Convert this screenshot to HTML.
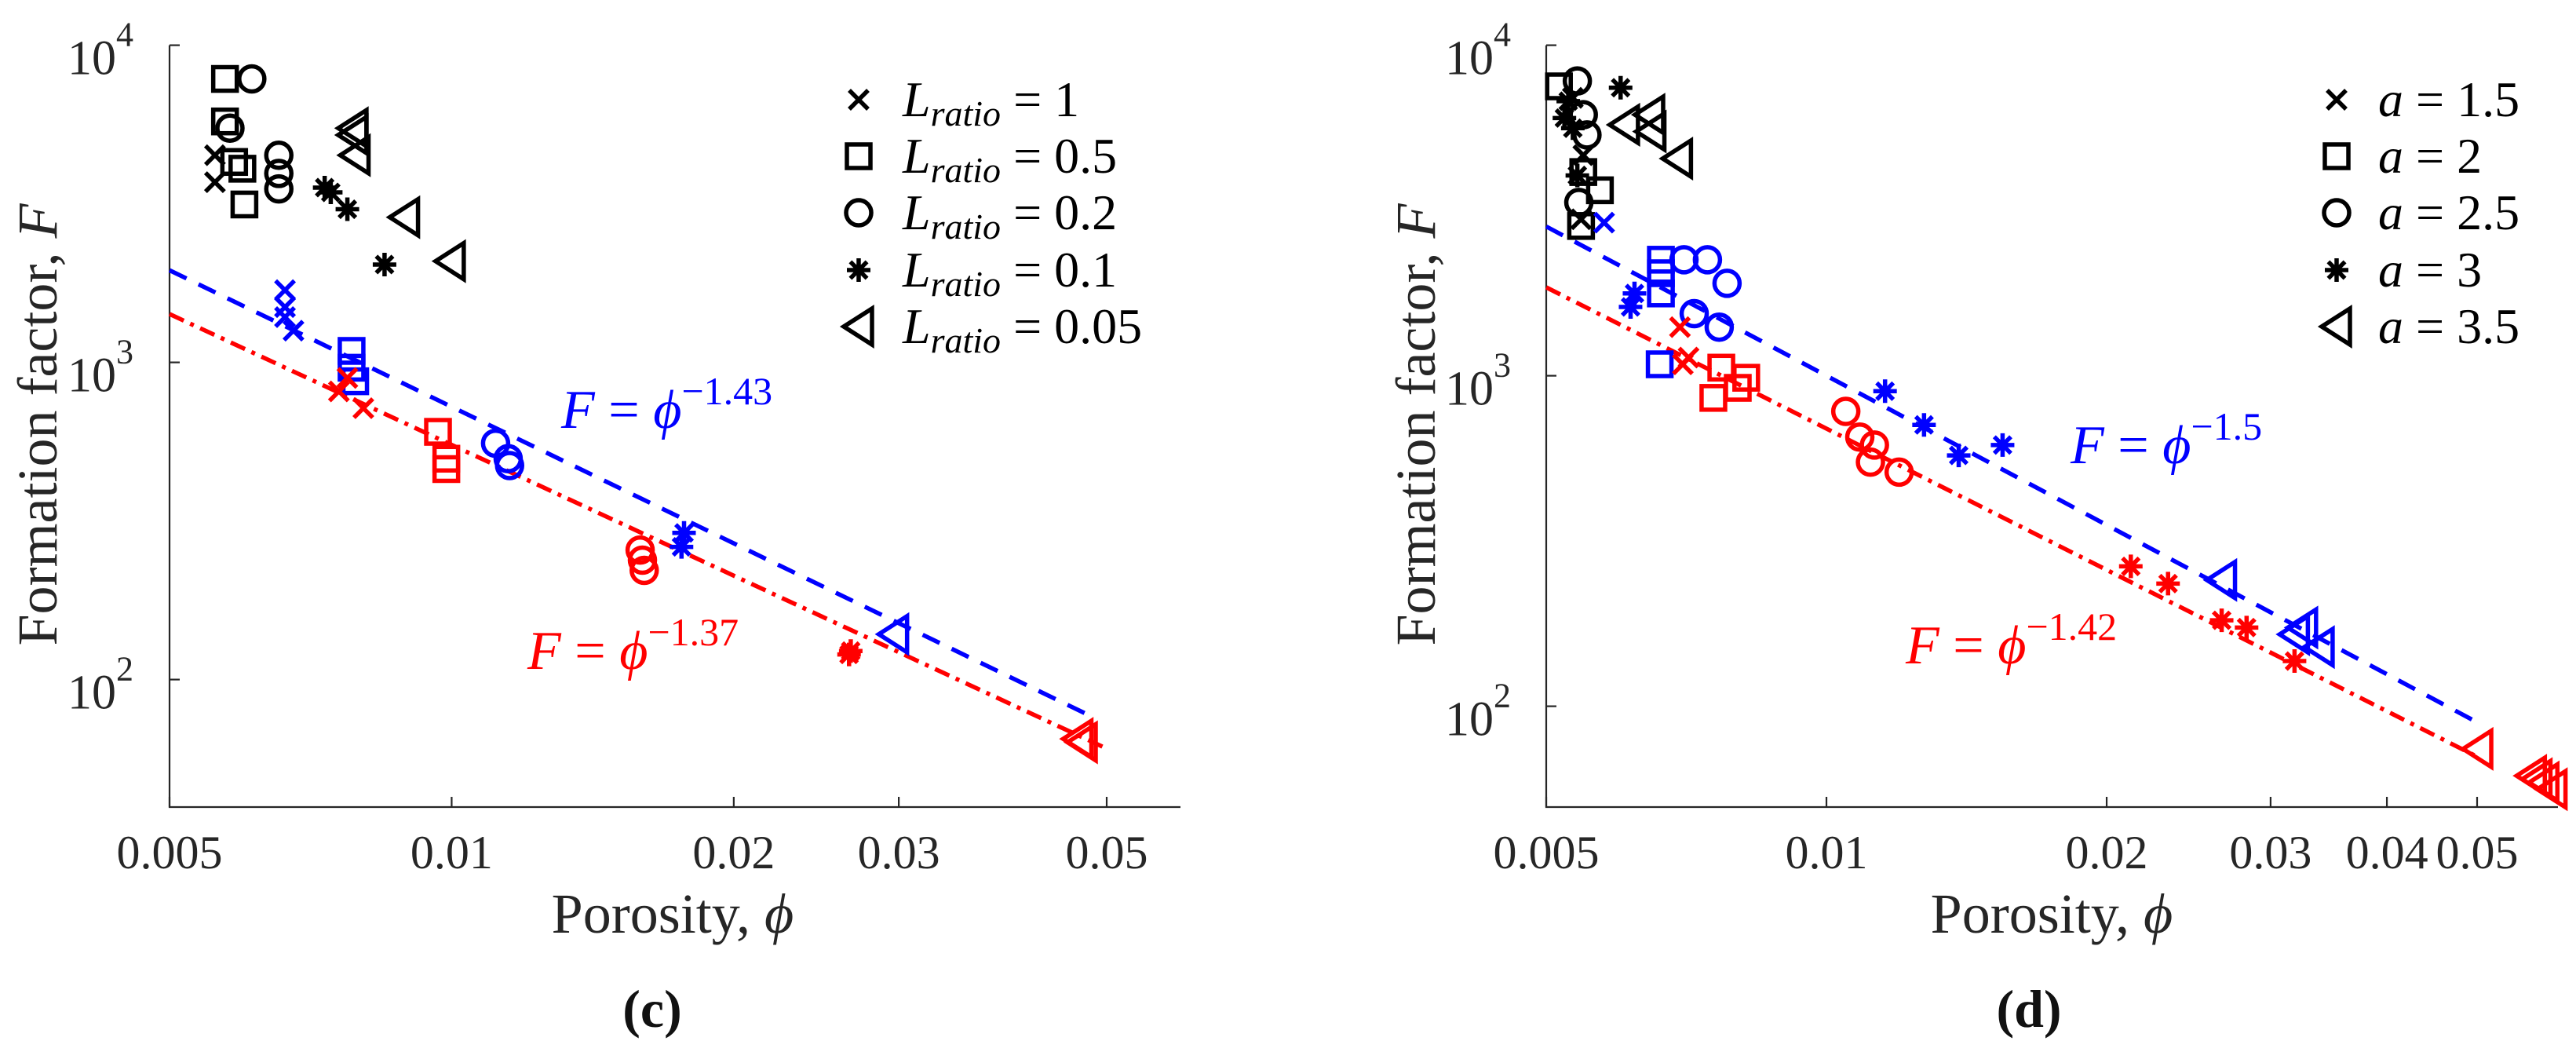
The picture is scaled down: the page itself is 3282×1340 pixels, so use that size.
<!DOCTYPE html>
<html><head><meta charset="utf-8"><style>
html,body{margin:0;padding:0;background:#fff;}
svg{display:block;}
svg text{font-family:"Liberation Serif","DejaVu Serif",serif !important;}
</style></head><body>
<svg id="fig" width="3282" height="1340" viewBox="0 0 3282 1340" xmlns="http://www.w3.org/2000/svg" font-family="'Liberation Serif', 'DejaVu Serif', serif"></svg>
<script>
// ---------- Panel (c) data ----------
const cBlackPhi = [0.00559,0.00559, 0.00573,0.00573,0.00598,0.00601,0.00586, 0.00612,0.0058,0.00654,0.00654,0.00654, 0.00732,0.00743,0.00774,0.00848, 0.00785,0.00785,0.00789,0.00891,0.00997];
const cBlackF   = [4500,3700, 7830,5750,4080,3147,4285, 7830,5475,4500,3942,3523, 3557,3436,3040,2035, 5475,5210,4500,2868,2085];
const cBlackMk  = ['x','x','s','s','s','s','s','o','o','o','o','o','*','*','*','*','<','<','<','<','<'];
const cBluePhi = [0.00664,0.00664,0.00664,0.00678, 0.00782,0.00782,0.00789, 0.01114,0.01149,0.01153, 0.0177,0.01759, 0.02963];
const cBlueF   = [1690,1494,1389,1259, 1087,962,872, 556,497,473, 290,262, 139];
const cBlueMk  = ['x','x','x','x','s','s','s','o','o','o','*','*','<'];
const cRedPhi = [0.00758,0.00805,0.00774, 0.00967,0.00987,0.00987, 0.01589,0.01598,0.01605, 0.02666,0.02655, 0.0471,0.0466];
const cRedF   = [810,717,893, 604,497,461, 256,238,221, 123,120, 63.4,65];
const cRedMk  = ['x','x','x','s','s','s','o','o','o','*','*','<','<'];
const cXTicks = [0.005,0.01,0.02,0.03,0.05];
const cXTickLabels = ['0.005','0.01','0.02','0.03','0.05'];
const cLegendVals = ['1','0.5','0.2','0.1','0.05'];
const cFitExp = [1.43,1.37];
const cFitRange = [[0.005,0.048],[0.005,0.05]];

// ---------- Panel (d) data ----------
const dBlackPhi = [0.00545,0.00548,0.00534, 0.00516,0.00545,0.00571,0.00548, 0.0054,0.00548,0.00553,0.00542, 0.00528,0.00523,0.0054,0.00601,0.00534, 0.00607,0.00646,0.00692,0.00648];
const dBlackF   = [2975,4648,6931, 7508,2839,3640,4133, 7795,6163,5354,3345, 6770,6020,4037,7436,5610, 5745,6163,4540,5482];
const dBlackMk  = ['x','x','x','s','s','s','s','o','o','o','o','*','*','*','*','*','<','<','<','<'];
const dBluePhi = [0.00577, 0.00664,0.00664,0.00664,0.00662, 0.00703,0.00745,0.00782,0.00721,0.00767, 0.00616,0.00622,0.01156,0.01273,0.01387,0.01546, 0.02658,0.03183,0.03384,0.03248];
const dBlueF   = [2906, 2244,2043,1774,1083, 2244,2244,1904,1541,1403, 1615,1774,898,710,574,617, 241,165,151,173];
const dBlueMk  = ['x','s','s','s','s','o','o','o','o','o','*','*','*','*','*','*','<','<','<','<'];
const dRedPhi = [0.00696,0.00701,0.00711, 0.00771,0.00756,0.00803,0.0082, 0.01049,0.01086,0.01126,0.01115,0.01197, 0.02123,0.02328,0.02658,0.02827,0.03183, 0.0501,0.0572,0.059,0.0602,0.058];
const dRedF   = [1403,1083,1135, 1058,857,919,986, 780,652,617,548,511, 265,235,182,173,137, 74.3,61.6,58.8,56.1,60.2];
const dRedMk  = ['x','x','x','s','s','s','s','o','o','o','o','o','*','*','*','*','*','<','<','<','<','<'];
const dXTicks = [0.005,0.01,0.02,0.03,0.04,0.05];
const dXTickLabels = ['0.005','0.01','0.02','0.03','0.04','0.05'];
const dLegendVals = ['1.5','2','2.5','3','3.5'];
const dFitExp = [1.5,1.42];
const dFitRange = [[0.005,0.05],[0.005,0.05]];

const yTicks = [100,1000,10000];
const yTickExp = ['2','3','4'];
const legendMk = ['x','s','o','*','<'];

const NS = 'http://www.w3.org/2000/svg';
const FONT = "'Liberation Serif', 'DejaVu Serif', serif";
const svg = document.getElementById('fig');
function el(tag, attrs, parent){
  const e = document.createElementNS(NS, tag);
  for (const k in attrs) e.setAttribute(k, attrs[k]);
  if (tag==='text') e.setAttribute('font-family', FONT);
  (parent||svg).appendChild(e);
  return e;
}
function marker(g, type, x, y, col){
  const sw = 5.5;
  if (type==='x'){
    const r = 12;
    el('path',{d:`M${x-r},${y-r}L${x+r},${y+r}M${x-r},${y+r}L${x+r},${y-r}`,stroke:col,'stroke-width':sw,fill:'none'},g);
  } else if (type==='s'){
    const r = 15;
    el('rect',{x:x-r,y:y-r,width:2*r,height:2*r,stroke:col,'stroke-width':sw,fill:'none'},g);
  } else if (type==='o'){
    el('circle',{cx:x,cy:y,r:16,stroke:col,'stroke-width':sw,fill:'none'},g);
  } else if (type==='*'){
    const r = 15, d = 10.6;
    el('path',{d:`M${x},${y-r}L${x},${y+r}M${x-r},${y}L${x+r},${y}M${x-d},${y-d}L${x+d},${y+d}M${x-d},${y+d}L${x+d},${y-d}`,stroke:col,'stroke-width':sw,fill:'none'},g);
  } else if (type==='<'){
    el('path',{d:`M${x-19},${y}L${x+17},${y-23}L${x+17},${y+23}Z`,stroke:col,'stroke-width':sw,fill:'none','stroke-linejoin':'miter'},g);
  }
}

function panel(p){
  const g = el('g',{});
  
  
  const X = v => p.x0 + p.dx*Math.log10(v/0.005);
  const Y = v => p.ytop + p.dy*(4-Math.log10(v));
  const axc = '#262626';
  const ax = el('path',{d:`M${p.x0},${p.ytop}L${p.x0},${p.ybot}L${p.xend},${p.ybot}`,stroke:axc,'stroke-width':2.2,fill:'none'},g);
  
  
  p.xt.forEach((t,i)=>{
    const xx = X(t);
    el('line',{x1:xx,y1:p.ybot,x2:xx,y2:p.ybot-13,stroke:axc,'stroke-width':2.2},g);
    const tx = el('text',{x:xx,y:1106,'text-anchor':'middle','font-size':60,fill:axc},g);
    tx.textContent = p.xtl[i];
    
    
  });
  yTicks.forEach((t,i)=>{
    const yy = Y(t);
    el('line',{x1:p.x0,y1:yy,x2:p.x0+13,y2:yy,stroke:axc,'stroke-width':2.2},g);
    const tx = el('text',{x:p.ylx,y:yy+37,'text-anchor':'end','font-size':62,fill:axc},g);
    
    
    const a = el('tspan',{},tx); a.textContent='10';
    const b = el('tspan',{dy:-36,'font-size':44},tx); b.textContent=yTickExp[i];
  });
  const xl = el('text',{x:p.xlabx,y:1188,'text-anchor':'middle','font-size':72,fill:axc},g);
  
  
  el('tspan',{},xl).textContent='Porosity, ';
  el('tspan',{'font-style':'italic'},xl).textContent='ϕ';
  const yl = el('text',{x:0,y:0,'text-anchor':'middle','font-size':72,fill:axc,transform:`translate(${p.ylabx},541) rotate(-90)`},g);
  
  
  el('tspan',{},yl).textContent='Formation factor, ';
  el('tspan',{'font-style':'italic'},yl).textContent='F';
  const cap = el('text',{x:p.capx,y:1308,'text-anchor':'middle','font-size':68,'font-weight':'bold',fill:'#111'},g);
  cap.textContent = p.cap;
  
  
  const cols = ['#0000ff','#ff0000'];
  const dashes = ['24 17','20 9 5 9'];
  p.fe.forEach((e,i)=>{
    const [a,b] = p.fr[i];
    const ln = el('line',{x1:X(a),y1:Y(Math.pow(a,-e)),x2:X(b),y2:Y(Math.pow(b,-e)),stroke:cols[i],'stroke-width':5.5,'stroke-dasharray':dashes[i]},g);
    
    
  });
  const series = [[p.bk,'#000000','black'],[p.bl,'#0000ff','blue'],[p.rd,'#ff0000','red']];
  series.forEach(([s,col,nm])=>{
    const sg = el('g',{},g);
    
    
    s[0].forEach((phi,k)=>{ marker(sg, s[2][k], X(phi), Y(s[1][k]), col); });
  });
  p.ann.forEach((a,i)=>{
    const t = el('text',{x:a[0],y:a[1],'font-size':70,fill:cols[i]},g);
    
    
    el('tspan',{'font-style':'italic'},t).textContent='F';
    el('tspan',{},t).textContent=' = ';
    el('tspan',{'font-style':'italic'},t).textContent='ϕ';
    const s = el('tspan',{dy:-30,'font-size':50},t); s.textContent='−'+p.fe[i];
  });
  const lg = el('g',{},g);
  
  
  const ly = [127,199,271,344,416];
  p.lv.forEach((v,i)=>{
    const eg = el('g',{},lg);
    
    
    marker(eg, legendMk[i], p.lmx, ly[i], '#000');
    const t = el('text',{x:p.ltx,y:ly[i]+21,'font-size':64,fill:'#000'},eg);
    if (p.lratio){
      el('tspan',{'font-style':'italic'},t).textContent='L';
      el('tspan',{'font-style':'italic','font-size':46,dy:12},t).textContent='ratio';
      el('tspan',{dy:-12},t).textContent=' = '+v;
    } else {
      el('tspan',{'font-style':'italic'},t).textContent='a';
      el('tspan',{},t).textContent=' = '+v;
    }
  });
}

panel({name:'panel-c', x0:216, dx:1194, xend:1504, ytop:57.6, dy:404, ybot:1028,
  xt:cXTicks, xtl:cXTickLabels, ylx:170, xlabx:857, ylabx:72, capx:831, cap:'(c)',
  fe:cFitExp, fr:cFitRange,
  bk:[cBlackPhi,cBlackF,cBlackMk], bl:[cBluePhi,cBlueF,cBlueMk], rd:[cRedPhi,cRedF,cRedMk],
  ann:[[715,545],[672,852]], lv:cLegendVals, lratio:true, lmx:1094, ltx:1150});
panel({name:'panel-d', x0:1970, dx:1186, xend:3259, ytop:57.6, dy:421, ybot:1028,
  xt:dXTicks, xtl:dXTickLabels, ylx:1925, xlabx:2614, ylabx:1828, capx:2585, cap:'(d)',
  fe:dFitExp, fr:dFitRange,
  bk:[dBlackPhi,dBlackF,dBlackMk], bl:[dBluePhi,dBlueF,dBlueMk], rd:[dRedPhi,dRedF,dRedMk],
  ann:[[2638,590],[2428,845]], lv:dLegendVals, lratio:false, lmx:2977, ltx:3030});
</script>
</body></html>
